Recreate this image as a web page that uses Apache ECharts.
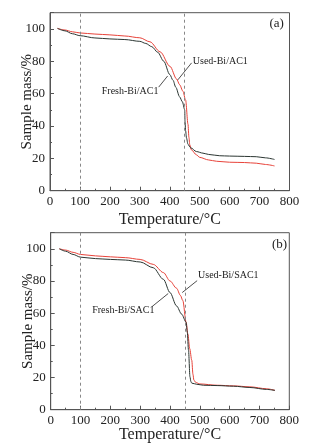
<!DOCTYPE html>
<html><head><meta charset="utf-8">
<script src="https://cdn.jsdelivr.net/npm/echarts@6/dist/echarts.min.js"></script>
<style>html,body{margin:0;padding:0;background:#fff}#c{width:314px;height:444px}</style>
</head><body><div id="c"></div>
<script>
// ---- data ----
const xTicks = [0,100,200,300,400,500,600,700,800];
const yTicks = [0,20,40,60,80,100];
const markTemps = [100, 450];

const freshAC1_T = [25,50,75,100,150,200,250,300,320,340,360,380,400,411,420,433,442,450,451,453,456,461,470,489,511,530,567,600,650,689,720,750];
const freshAC1_M = [100.3,98.8,97,95.8,94.4,93.8,93.4,92.3,91,89,85.5,80,71.8,68.2,64,58,55,50,43,37,32.5,28.6,26.5,24.2,23.2,22.4,21.6,21.4,21.2,21,20.3,19.3];
const usedAC1_T = [25,50,75,100,150,200,250,300,334,368,401,423,433,444,453,461,464,467,472,489,500,530,556,600,650,689,720,750];
const usedAC1_M = [100.3,99.3,98.2,97.5,96.8,96.3,95.6,94.5,92,85.8,76.8,69,65.5,61.5,56,41,33,28.3,25.3,22.2,20.6,19,18.2,17.6,17.4,17,16.2,15.3];

const freshSAC1_T = [29,50,75,100,150,200,250,300,344,378,400,422,439,454,458,462,467,470,473,490,512,558,613,668,724,752];
const freshSAC1_M = [100,98.5,96.5,94.8,93.9,93.4,93,91.8,88.2,81,72.8,64.5,59.4,54.4,48,37,20.4,17.5,16.5,15.8,15.2,15,14.6,13.8,12.6,12];
const usedSAC1_T = [29,50,75,100,150,200,250,300,344,378,400,422,435,443,454,460,466,473,477,480,486,500,558,613,668,724,752];
const usedSAC1_M = [100,99.2,97.8,96.5,95.6,95,94.5,93.4,90.3,85.2,80,75.5,71,67.8,54.4,47,38,30.7,22,18.4,17,16,15.2,14.8,14.2,13,12];

const panelLabels = ['(a)','(b)'];
const seriesNames = [['Fresh-Bi/AC1','Used-Bi/AC1'],['Fresh-Bi/SAC1','Used-Bi/SAC1']];

// annotation placement (data space)
const ann = [
  {panel:[733,103.5], used:{text:[477,80], from:[473,79], to:[427,68.5]}, fresh:{text:[173,61.6], from:[363,64], to:[393,70.9]}},
  {panel:[742,102.5], used:{text:[494,83.3], from:[491,80.2], to:[441,72.8]}, fresh:{text:[139,61.7], from:[340,64.1], to:[394,72.2]}}
];

const FONT = 'Liberation Serif';
const BLACK = '#2b3632';
const RED = '#e8433a';
const zip = (a,b)=>a.map((v,i)=>[v,b[i]]);

const grids = [
  {left:50, width:239.5, top:12.7, height:178, show:true, borderColor:'#555', borderWidth:1, outerBoundsMode:'none', containLabel:false},
  {left:50.7, width:238.6, top:232.7, height:177, show:true, borderColor:'#555', borderWidth:1, outerBoundsMode:'none', containLabel:false}
];
const xNameGaps = [21, 17];

const xAxes = grids.map((g,i)=>({
  gridIndex:i, type:'value', min:xTicks[0], max:xTicks[xTicks.length-1], interval:100,
  name:'Temperature/°C', nameLocation:'middle', nameGap:xNameGaps[i], nameMoveOverlap:false,
  nameTextStyle:{fontFamily:FONT, fontSize:16, color:'#222'},
  axisLine:{show:true, lineStyle:{color:'#555'}},
  axisTick:{show:true, inside:true, length:4, lineStyle:{color:'#555'}},
  minorTick:{show:true, splitNumber:2, length:2, lineStyle:{color:'#555'}},
  splitLine:{show:false},
  axisLabel:{fontFamily:FONT, fontSize:13, color:'#222', margin:4}
}));
const yAxes = grids.map((g,i)=>({
  gridIndex:i, type:'value', min:0, max:110, interval:20,
  name:'Sample mass/%', nameLocation:'middle', nameGap:15, nameRotate:90, nameMoveOverlap:false,
  nameTextStyle:{fontFamily:FONT, fontSize:15, color:'#222'},
  axisLine:{show:true, lineStyle:{color:'#555'}},
  axisTick:{show:true, inside:true, length:4, lineStyle:{color:'#555'}},
  minorTick:{show:true, splitNumber:2, length:2, lineStyle:{color:'#555'}},
  splitLine:{show:false},
  axisLabel:{fontFamily:FONT, fontSize:13, color:'#222', margin:5, showMaxLabel:false,
    formatter:v=> yTicks.indexOf(v)>=0 ? String(v) : ''}
}));

const dataSets = [[zip(freshAC1_T,freshAC1_M), zip(usedAC1_T,usedAC1_M)], [zip(freshSAC1_T,freshSAC1_M), zip(usedSAC1_T,usedSAC1_M)]];
const series = [];
dataSets.forEach((pair,i)=>{
  const a = ann[i];
  const txt = (c,t,fs)=>({coord:c, value:t, symbol:'circle', symbolSize:0,
    label:{show:true, position:'right', distance:0, formatter:t, fontFamily:FONT, fontSize:fs, color:'#222'}});
  series.push({
    type:'line', name:seriesNames[i][0], xAxisIndex:i, yAxisIndex:i, data:pair[0],
    showSymbol:false, smooth:0.3, smoothMonotone:'x', lineStyle:{color:BLACK, width:1}, z:3,
    markLine:{silent:true, symbol:'none', animation:false, label:{show:false},
      lineStyle:{color:'#888', type:[3,3], width:1},
      data: markTemps.map(t=>({xAxis:t}))},
    markPoint:{silent:true, animation:false, data:[
      txt(a.panel, panelLabels[i], 13),
      txt(a.fresh.text, seriesNames[i][0], 10),
      txt(a.used.text, seriesNames[i][1], 10)
    ]}
  });
  series.push({
    type:'line', name:seriesNames[i][1], xAxisIndex:i, yAxisIndex:i, data:pair[1],
    showSymbol:false, smooth:0.3, smoothMonotone:'x', lineStyle:{color:RED, width:1}, z:2,
    markLine:{silent:true, animation:false, symbol:['none','arrow'], symbolSize:[0,6], label:{show:false},
      lineStyle:{color:'#222', type:'solid', width:0.8},
      data:[[{coord:a.used.from},{coord:a.used.to}],[{coord:a.fresh.from},{coord:a.fresh.to}]]}
  });
});

const chart = echarts.init(document.getElementById('c'), null, {renderer:'canvas'});
chart.setOption({animation:false, backgroundColor:'#fff', grid:grids, xAxis:xAxes, yAxis:yAxes, series:series});
</script></body></html>
